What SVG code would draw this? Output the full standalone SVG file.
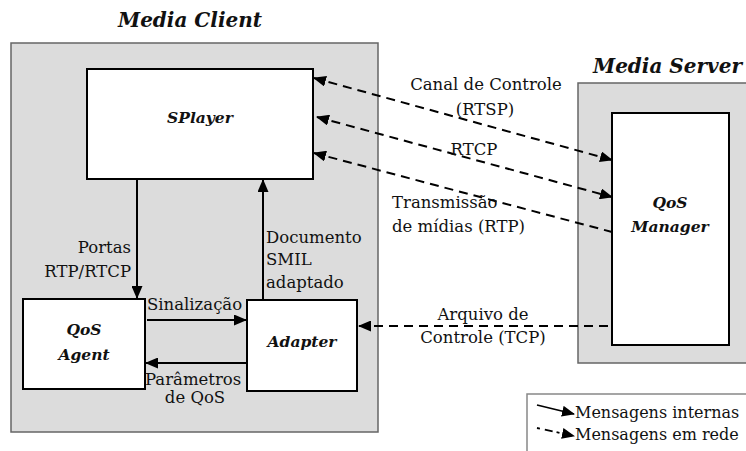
<svg xmlns="http://www.w3.org/2000/svg" width="746" height="451" viewBox="0 0 746 451">
<defs>
<marker id="ah" markerUnits="userSpaceOnUse" markerWidth="13" markerHeight="11" refX="12" refY="5.5" orient="auto-start-reverse" viewBox="0 0 13 11">
<path d="M0,0 L13,5.5 L0,11 z" fill="#000"/>
</marker>
</defs>
<style>
text{font-family:"DejaVu Serif","Liberation Serif",serif;font-size:16.5px;fill:#111}
.t{font-weight:bold;font-style:italic;font-size:20px}
.n{font-weight:bold;font-style:italic;font-size:15.5px}
.lg{font-size:16px}
.c{text-anchor:middle}
.r{text-anchor:end}
.outer{fill:#dcdcdc;stroke:#666;stroke-width:1.5}
.box{fill:#fff;stroke:#000;stroke-width:2}
.s{stroke:#000;stroke-width:2;fill:none;marker-end:url(#ah)}
.d{stroke:#000;stroke-width:2;fill:none;stroke-dasharray:9,6}
</style>
<g id="media-client">
<rect class="outer" x="11" y="43" width="367" height="389"/>
<text class="t c" x="190" y="27">Media Client</text>
</g>
<g id="media-server">
<rect class="outer" x="578" y="83" width="180" height="280"/>
<text class="t" x="593" y="73">Media Server</text>
</g>
<g id="splayer">
<rect class="box" x="87" y="69" width="226" height="110"/>
<text class="n c" x="200" y="123">SPlayer</text>
</g>
<g id="qos-agent">
<rect class="box" x="23" y="299" width="122" height="90"/>
<text class="n c" x="84" y="335">QoS</text>
<text class="n c" x="84" y="360">Agent</text>
</g>
<g id="adapter">
<rect class="box" x="247" y="300" width="110" height="91"/>
<text class="n c" x="302" y="347">Adapter</text>
</g>
<g id="qos-manager">
<rect class="box" x="612" y="113" width="117" height="232"/>
<text class="n c" x="670" y="208">QoS</text>
<text class="n c" x="670" y="232">Manager</text>
</g>
<g id="connectors">
<line class="s" x1="137" y1="179" x2="137" y2="298"/>
<line class="s" x1="263" y1="299" x2="263" y2="180"/>
<line class="s" x1="147" y1="320" x2="246" y2="320"/>
<line class="s" x1="247" y1="363" x2="146" y2="363"/>
<line class="d" x1="314" y1="78" x2="612" y2="160" marker-start="url(#ah)" marker-end="url(#ah)"/>
<line class="d" x1="317" y1="117" x2="612" y2="197" marker-start="url(#ah)" marker-end="url(#ah)"/>
<line class="d" x1="314" y1="153" x2="612" y2="232" marker-start="url(#ah)"/>
<line class="d" x1="359" y1="326" x2="612" y2="326" marker-start="url(#ah)"/>
</g>
<g id="labels">
<text class="r" x="131" y="253">Portas</text>
<text class="r" x="131" y="277">RTP/RTCP</text>
<text x="266" y="243">Documento</text>
<text x="266" y="265">SMIL</text>
<text x="266" y="288">adaptado</text>
<text x="147" y="310">Sinalização</text>
<text x="145" y="385">Parâmetros</text>
<text class="c" x="195" y="403">de QoS</text>
<text class="c" x="486" y="90">Canal de Controle</text>
<text class="c" x="485" y="115">(RTSP)</text>
<text class="c" x="474" y="155">RTCP</text>
<text x="392" y="208">Transmissão</text>
<text x="392" y="232">de mídias (RTP)</text>
<text class="c" x="483" y="320">Arquivo de</text>
<text class="c" x="483" y="343">Controle (TCP)</text>
</g>
<g id="legend">
<rect x="527" y="394" width="230" height="70" fill="#fff" stroke="#888" stroke-width="1.5"/>
<line class="s" x1="537" y1="405" x2="574" y2="414" style="stroke-width:1.8"/>
<line x1="537" y1="428" x2="574" y2="436" stroke="#000" stroke-width="1.8" stroke-dasharray="3,5,8,4" marker-end="url(#ah)"/>
<text class="lg" x="575" y="418">Mensagens internas</text>
<text class="lg" x="575" y="440">Mensagens em rede</text>
</g>
</svg>
